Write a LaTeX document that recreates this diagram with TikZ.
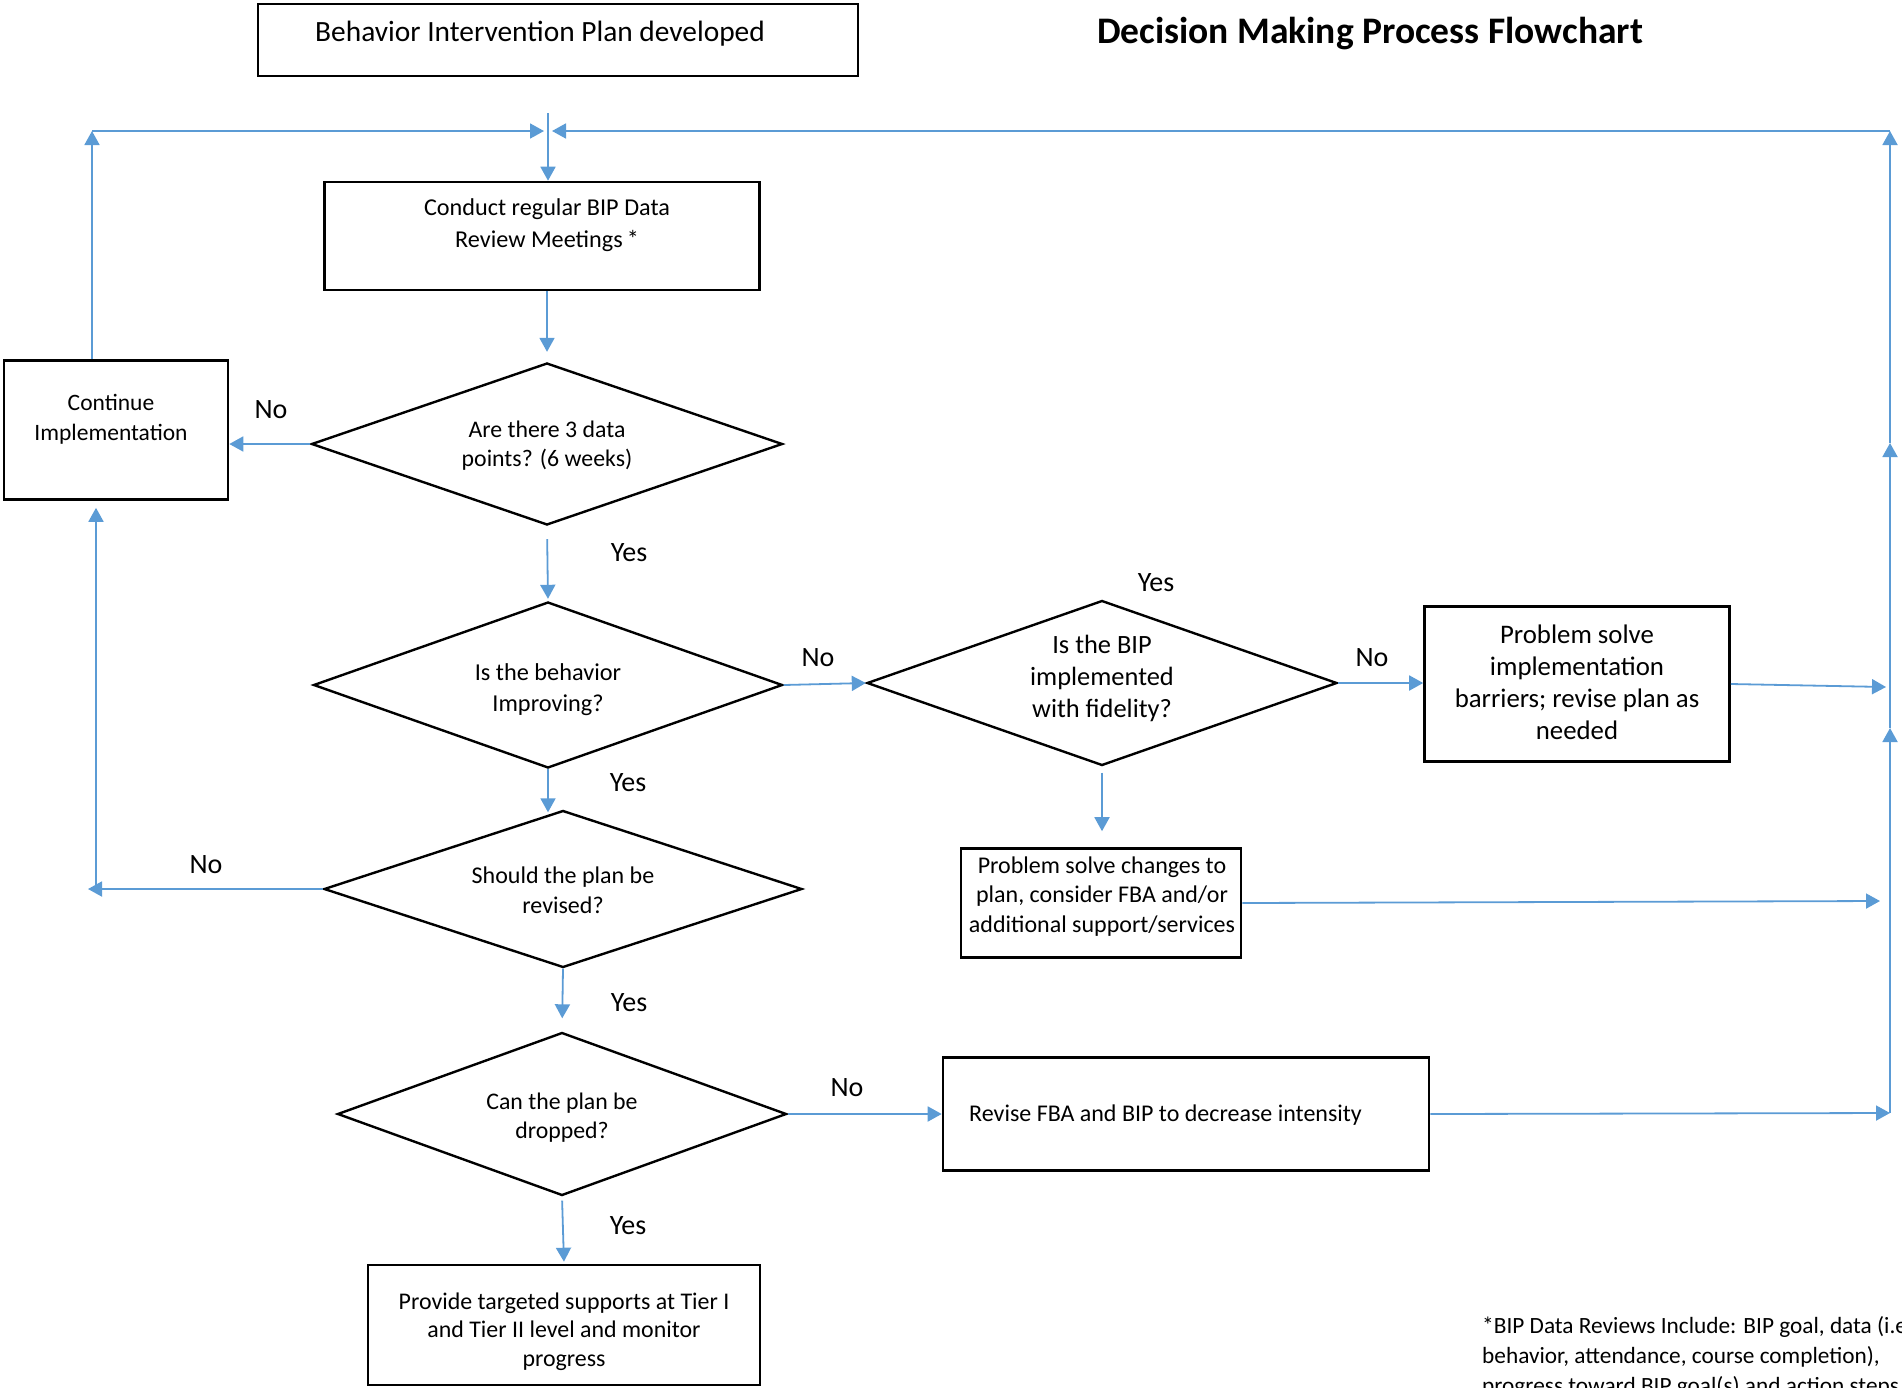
\documentclass[tikz,border=0pt]{standalone}
\usepackage{fontspec}
\setmainfont{Carlito}
\usetikzlibrary{arrows.meta,shapes.geometric}
\definecolor{LineBlue}{RGB}{91,155,213}

\begin{document}
\begin{tikzpicture}[x=1pt, y=-1pt,
  box/.style={draw, line width=2.6pt, inner sep=0pt},
  dia/.style={draw, diamond, line width=2.4pt, inner sep=0pt},
  flow/.style={LineBlue, line width=1.8pt, -{Triangle[length=14pt,width=15pt]}},
  txt/.style={align=center, inner sep=0pt, anchor=base},
  ans/.style={font=\fontsize{28}{34}\selectfont, inner sep=0pt, anchor=base}]
\useasboundingbox (0,0) rectangle (1902,1387);

% Title
\node[inner sep=0pt, anchor=base, font=\bfseries\fontsize{37.5}{42}\selectfont] (title) at (1370,43) {Decision Making Process Flowchart};

% Boxes
\node[box, minimum width=600pt, minimum height=72pt] (dev) at (558,40) {};
\node[box, minimum width=435pt, minimum height=108pt] (cond) at (542,236) {};
\node[box, minimum width=224pt, minimum height=139pt] (cont) at (116,430) {};
\node[box, minimum width=305pt, minimum height=155pt] (barr) at (1577,684) {};
\node[box, minimum width=280pt, minimum height=109pt] (chg) at (1101,903) {};
\node[box, minimum width=486pt, minimum height=113pt] (rev) at (1186,1114) {};
\node[box, minimum width=392pt, minimum height=120pt] (prov) at (564,1325) {};

% Decisions
\node[dia, minimum width=471pt, minimum height=162pt] (d1) at (547,444) {};
\node[dia, minimum width=469pt, minimum height=166pt] (d2) at (548,685) {};
\node[dia, minimum width=470pt, minimum height=165pt] (d3) at (1102,683) {};
\node[dia, minimum width=478pt, minimum height=157pt] (d4) at (563,889) {};
\node[dia, minimum width=449pt, minimum height=163pt] (d5) at (562,1114) {};

% Texts (base = last line)
\node[txt, font=\fontsize{29.4}{34}\selectfont] (dev-t) at (540,41) {Behavior Intervention Plan developed};
\node[txt, font=\fontsize{24.2}{32}\selectfont] (cond-t) at (547,247) {Conduct regular BIP Data\\Review Meetings\,*};
\node[txt, font=\fontsize{23.5}{30}\selectfont] (cont-t) at (111,440) {Continue\\Implementation};
\node[txt, font=\fontsize{23.8}{29}\selectfont] (d1-t) at (547,466) {Are there 3 data\\points? (6 weeks)};
\node[txt, font=\fontsize{24.3}{31}\selectfont] (d2-t) at (548,711) {Is the behavior\\Improving?};
\node[txt, font=\fontsize{26.4}{32}\selectfont] (d3-t) at (1102,717) {Is the BIP\\implemented\\with fidelity?};
\node[txt, font=\fontsize{26.8}{32}\selectfont] (barr-t) at (1577,739) {Problem solve\\implementation\\barriers; revise plan as\\needed};
\node[txt, font=\fontsize{24}{29.5}\selectfont] (chg-t) at (1102,932) {Problem solve changes to\\plan, consider FBA and/or\\additional support/services};
\node[txt, font=\fontsize{24}{30}\selectfont] (d4-t) at (563,913) {Should the plan be\\revised?};
\node[txt, font=\fontsize{23.8}{29}\selectfont] (d5-t) at (562,1138) {Can the plan be\\dropped?};
\node[txt, anchor=base west, font=\fontsize{24}{29}\selectfont] (rev-t) at (969,1121) {Revise FBA and BIP to decrease intensity};
\node[txt, font=\fontsize{23.9}{28.5}\selectfont] (prov-t) at (564,1366) {Provide targeted supports at Tier I\\and Tier II level and monitor\\progress};
\node[txt, anchor=base west, align=left, font=\fontsize{23.3}{30}\selectfont] (note) at (1482,1393) {*BIP Data Reviews Include: BIP goal, data (i.e.\\behavior, attendance, course completion),\\progress toward BIP goal(s) and action steps};

% Yes / No
\node[ans] (n1) at (271,418) {No};
\node[ans] (y1) at (629,561) {Yes};
\node[ans] (n2) at (818,666) {No};
\node[ans] (y3) at (1156,591) {Yes};
\node[ans] (n3) at (1372,666) {No};
\node[ans] (y2) at (628,791) {Yes};
\node[ans] (n4) at (206,873) {No};
\node[ans] (y4) at (629,1011) {Yes};
\node[ans] (n5) at (847,1096) {No};
\node[ans] (y5) at (628,1234) {Yes};

% Loop points
\coordinate (start) at (548,113);
\coordinate (mid) at (548,131);
\coordinate (lT) at (92,131);
\coordinate (lB) at (96,889);
\coordinate (lN) at (88,889);
\coordinate (rT) at (1890,131);
\coordinate (rA) at (1890,443);
\coordinate (rB) at (1890,728);
\coordinate (rC) at (1890,1113);
\coordinate (rD) at (1886,687);
\coordinate (rE) at (1880,901);

% Connectors
\draw[flow] (start) -- (start |- cond.north);
\draw[flow, shorten >=10pt] (cond.south -| d1.north) -- (d1.north);
\draw[flow] (d1.west) -- (d1.west -| cont.east);
\draw[flow, shorten <=13pt, shorten >=2pt] (d1.south) -- (d2.north);
\draw[flow] (d2.east) -- (d3.west);
\draw[flow] (d3.east) -- (d3.east -| barr.west);
\draw[flow, shorten <=6pt, shorten >=16pt] (d3.south) -- (d3.south |- chg.north);
\draw[flow] (barr.east) -- (rD);
\draw[flow] (chg.east) -- (rE);
\draw[flow, shorten >=-3pt] (d2.south) -- (d2.south |- d4.north);
\draw[flow] (d4.west) -- (lN);
\draw[flow, shorten >=7pt] (lB) -- (lB |- cont.south);
\draw[flow] (cont.north -| lT) -- (lT);
\draw[flow, shorten >=4pt] (lT) -- (mid);
\draw[flow, shorten >=13pt] (d4.south) -- (d5.north);
\draw[flow] (d5.east) -- (d5.east -| rev.west);
\draw[flow, shorten <=4pt, shorten >=2pt] (d5.south) -- (prov.north);
\draw[flow] (rev.east) -- (rC);
\draw[flow] (rC) -- (rB);
\draw[flow] (rB) -- (rA);
\draw[flow] (rA) -- (rT);
\draw[flow, shorten >=4pt] (rT) -- (mid);

\end{tikzpicture}
\end{document}
